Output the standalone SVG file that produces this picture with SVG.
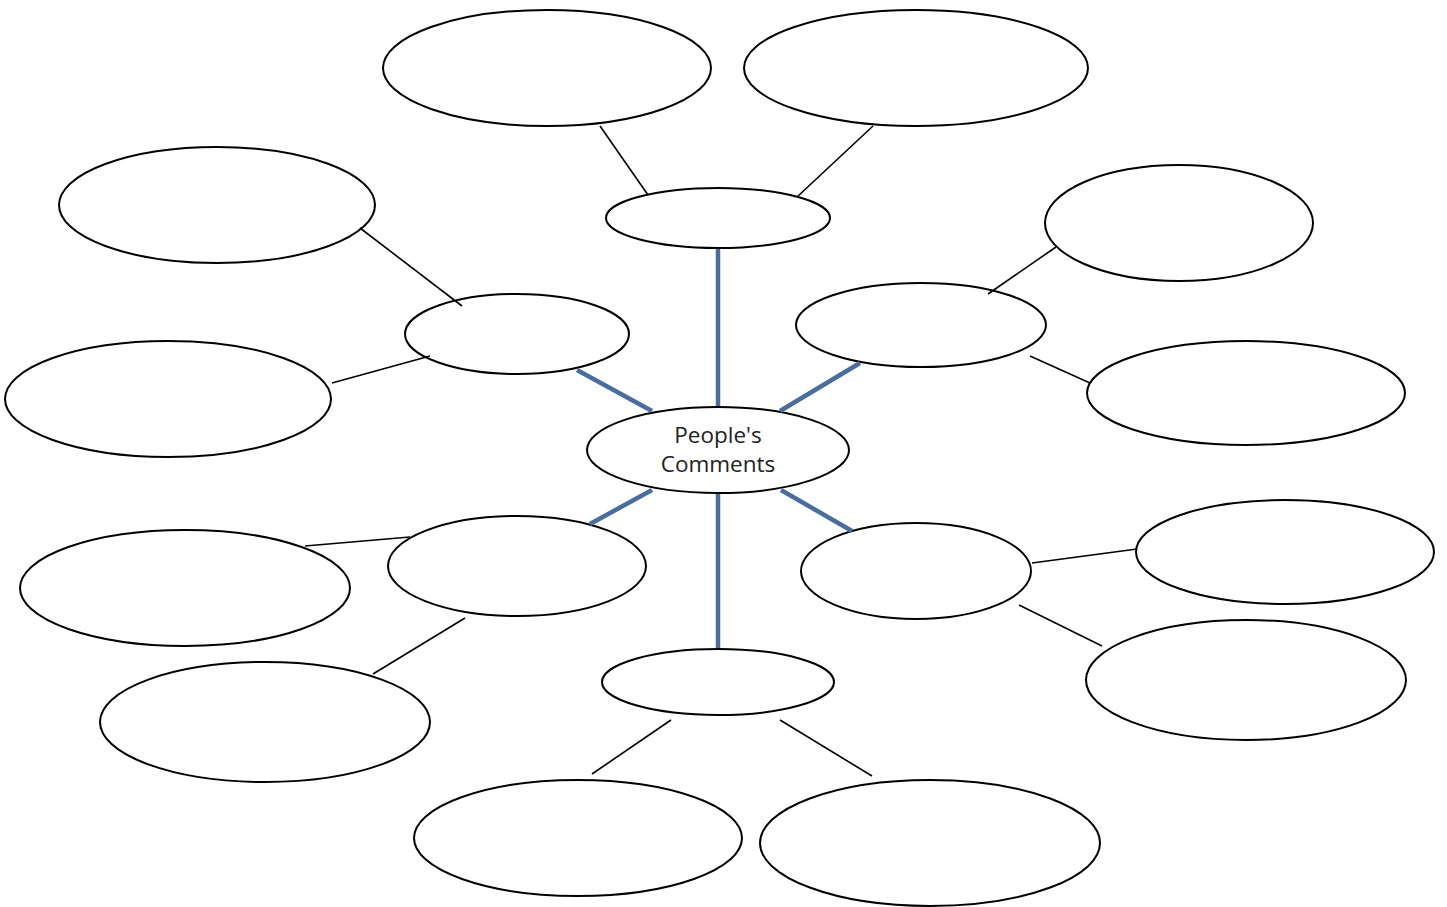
<svg xmlns="http://www.w3.org/2000/svg" width="1447" height="907" viewBox="0 0 1447 907">
<style>
.n{fill:#fff;stroke:#000;stroke-width:2}
.b{stroke:#4a6da0;stroke-width:4.5;fill:none}
.t{stroke:#000;stroke-width:1.6;fill:none}
.lbl{font-family:"Open Sans","Noto Sans",sans-serif;font-size:22.5px;fill:#222;text-anchor:middle}
</style>
<rect width="1447" height="907" fill="#fff"/>
<g id="center"><ellipse class="n" cx="718" cy="450" rx="131" ry="43"/>
<text class="lbl" x="718" y="443">People's</text>
<text class="lbl" x="718" y="472">Comments</text></g>
<g id="hub-top"><ellipse class="n" cx="718" cy="218" rx="112" ry="30"/></g>
<g id="top-left"><ellipse class="n" cx="547" cy="68" rx="164" ry="58"/></g>
<g id="top-right"><ellipse class="n" cx="916" cy="68" rx="172" ry="58"/></g>
<g id="hub-left"><ellipse class="n" cx="517" cy="334" rx="112" ry="40"/></g>
<g id="upper-left"><ellipse class="n" cx="217" cy="205" rx="158" ry="58"/></g>
<g id="left"><ellipse class="n" cx="168" cy="399" rx="163" ry="58"/></g>
<g id="hub-right"><ellipse class="n" cx="921" cy="325" rx="125" ry="42"/></g>
<g id="upper-right"><ellipse class="n" cx="1179" cy="223" rx="134" ry="58"/></g>
<g id="right"><ellipse class="n" cx="1246" cy="393" rx="159" ry="52"/></g>
<g id="hub-lower-left"><ellipse class="n" cx="517" cy="566" rx="129" ry="50"/></g>
<g id="lower-left-a"><ellipse class="n" cx="185" cy="588" rx="165" ry="58"/></g>
<g id="lower-left-b"><ellipse class="n" cx="265" cy="722" rx="165" ry="60"/></g>
<g id="hub-lower-right"><ellipse class="n" cx="916" cy="571" rx="115" ry="48"/></g>
<g id="lower-right-a"><ellipse class="n" cx="1285" cy="552" rx="149" ry="52"/></g>
<g id="lower-right-b"><ellipse class="n" cx="1246" cy="680" rx="160" ry="60"/></g>
<g id="hub-bottom"><ellipse class="n" cx="718" cy="682" rx="116" ry="33"/></g>
<g id="bottom-left"><ellipse class="n" cx="578" cy="838" rx="164" ry="58"/></g>
<g id="bottom-right"><ellipse class="n" cx="930" cy="843" rx="170" ry="63"/></g>
<g id="connectors">
<line class="b" x1="718" y1="249" x2="718" y2="406"/>
<line class="b" x1="718" y1="494" x2="718" y2="648"/>
<line class="b" x1="577" y1="370" x2="652" y2="411"/>
<line class="b" x1="860" y1="363" x2="780" y2="411"/>
<line class="b" x1="652" y1="490" x2="590" y2="524"/>
<line class="b" x1="781" y1="490" x2="852" y2="531"/>
<line class="t" x1="600" y1="126" x2="648" y2="195"/>
<line class="t" x1="873" y1="126" x2="797" y2="197"/>
<line class="t" x1="360" y1="228" x2="462" y2="306"/>
<line class="t" x1="332" y1="383" x2="430" y2="356"/>
<line class="t" x1="988" y1="294" x2="1056" y2="247"/>
<line class="t" x1="1030" y1="356" x2="1090" y2="383"/>
<line class="t" x1="305" y1="546" x2="410" y2="537"/>
<line class="t" x1="373" y1="674" x2="465" y2="618"/>
<line class="t" x1="1032" y1="563" x2="1137" y2="549"/>
<line class="t" x1="1019" y1="605" x2="1102" y2="646"/>
<line class="t" x1="671" y1="720" x2="592" y2="774"/>
<line class="t" x1="780" y1="720" x2="872" y2="776"/>
</g>
</svg>
